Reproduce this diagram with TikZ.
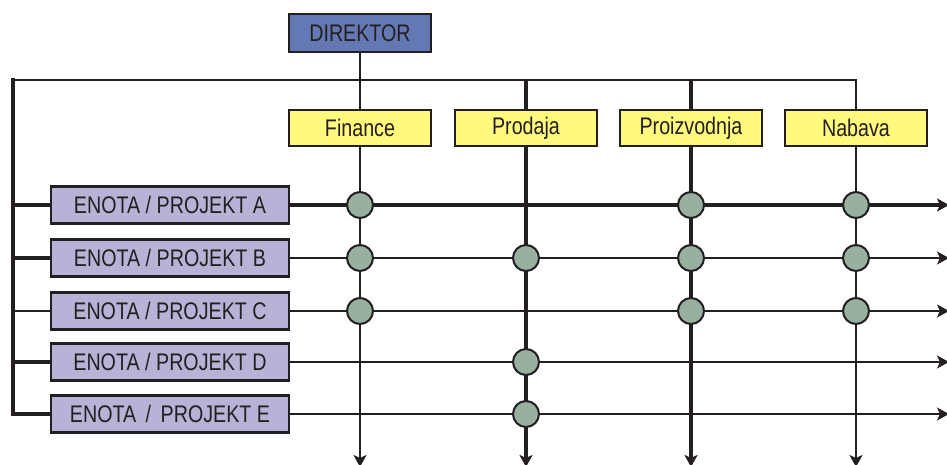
\documentclass[tikz,border=0pt]{standalone}
\usepackage{fontspec}
\setmainfont{Liberation Sans}[FakeStretch=0.82]
\usetikzlibrary{arrows.meta}

\definecolor{dirblue}{RGB}{100,121,180}
\definecolor{funyellow}{RGB}{255,250,125}
\definecolor{unitlilac}{RGB}{183,179,214}
\definecolor{linkgreen}{RGB}{152,176,160}
\definecolor{ink}{RGB}{35,31,32}

\tikzset{
  orgbox/.style={draw=ink,line width=2.4pt,inner sep=0pt,text=ink,
    font=\fontsize{24}{28}\selectfont},
  headbox/.style={orgbox,fill=dirblue,minimum width=142pt,minimum height=38pt},
  funbox/.style={orgbox,fill=funyellow,minimum width=142pt,minimum height=36pt},
  unitbox/.style={orgbox,fill=unitlilac,minimum width=238pt,minimum height=37pt},
  light/.style={draw=ink,line width=1.8pt},
  heavy/.style={draw=ink,line width=3.4pt},
  arr/.style={-{Stealth[length=12pt,width=13pt,inset=3pt]}},
  link/.style={circle,draw=ink,line width=2pt,fill=linkgreen,minimum size=26pt,inner sep=0pt}
}

\begin{document}
\begin{tikzpicture}[x=1pt,y=-1pt]
    \useasboundingbox (0,0) rectangle (947,465);

    \node[headbox] (dir) at (360,33) {DIREKTOR};
    \node[funbox] (fin) at (360,128) {Finance};
    \node[funbox] (pro) at (526,128) {Prodaja};
    \node[funbox] (prz) at (691,128) {Proizvodnja};
    \node[funbox] (nab) at (856,128) {Nabava};

    \node[unitbox] (ua) at (170,205) {ENOTA / PROJEKT A};
    \node[unitbox] (ub) at (170,258) {ENOTA / PROJEKT B};
    \node[unitbox] (uc) at (170,311) {ENOTA / PROJEKT C};
    \node[unitbox] (ud) at (170,362) {ENOTA / PROJEKT D};
    \node[unitbox] (ue) at (170,414) {ENOTA \,/\, PROJEKT E};

    \coordinate (tl) at (13,80);
    \coordinate (tr) at (856,80);
    \coordinate (bl) at (13,414);

    \coordinate (fend) at (360,467);
    \coordinate (pend) at (526,467);
    \coordinate (zend) at (691,467);
    \coordinate (nend) at (856,467);

    \coordinate (aend) at (949,205);
    \coordinate (bend) at (949,258);
    \coordinate (cend) at (949,311);
    \coordinate (dend) at (949,362);
    \coordinate (eend) at (949,414);

    % top bar and left bar
    \draw[light] (dir) -- (fin);
    \draw[light] (nab) -- (tr) -- (tl);
    \draw[heavy,line cap=rect] (tl) -- (bl) -- (ue);
    \draw[heavy] (ua.west -| tl) -- (ua);
    \draw[heavy] (ub.west -| tl) -- (ub);
    \draw[light] (uc.west -| tl) -- (uc);
    \draw[heavy] (ud.west -| tl) -- (ud);
    \draw[heavy] (pro |- tl) -- (pro);
    \draw[heavy] (prz |- tl) -- (prz);

    % columns
    \draw[light,arr] (fin) -- (fend);
    \draw[heavy,arr] (pro) -- (pend);
    \draw[heavy,arr] (prz) -- (zend);
    \draw[light,arr] (nab) -- (nend);

    % rows
    \draw[heavy,arr] (ua) -- (aend);
    \draw[light,arr] (ub) -- (bend);
    \draw[light,arr] (uc) -- (cend);
    \draw[light,arr] (ud) -- (dend);
    \draw[light,arr] (ue) -- (eend);

    \node[link] (fA) at (fin |- ua) {};
    \node[link] (zA) at (prz |- ua) {};
    \node[link] (nA) at (nab |- ua) {};
    \node[link] (fB) at (fin |- ub) {};
    \node[link] (pB) at (pro |- ub) {};
    \node[link] (zB) at (prz |- ub) {};
    \node[link] (nB) at (nab |- ub) {};
    \node[link] (fC) at (fin |- uc) {};
    \node[link] (zC) at (prz |- uc) {};
    \node[link] (nC) at (nab |- uc) {};
    \node[link] (pD) at (pro |- ud) {};
    \node[link] (pE) at (pro |- ue) {};
\end{tikzpicture}
\end{document}
